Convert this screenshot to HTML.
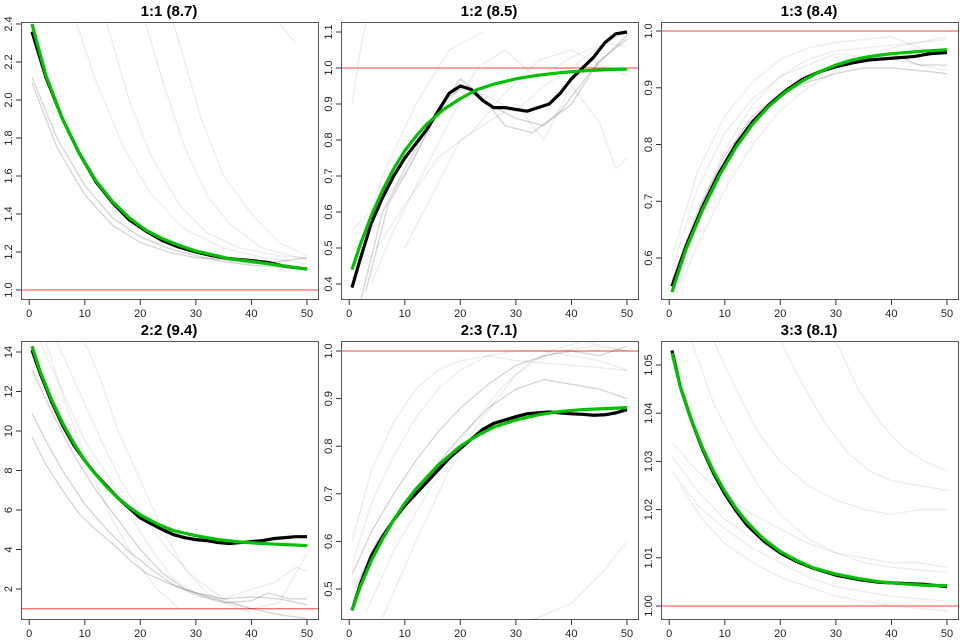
<!DOCTYPE html>
<html><head><meta charset="utf-8"><style>
body{margin:0;background:#fff}
svg{display:block;font-family:"Liberation Sans",sans-serif}
.t{font-weight:bold;font-size:15px;text-anchor:middle}
.tk{font-size:11px;fill:#222}
.g{fill:none;stroke:#000;stroke-opacity:.07;stroke-width:1.4;vector-effect:non-scaling-stroke}
.gd{fill:none;stroke:#000;stroke-opacity:.16;stroke-width:1.4;vector-effect:non-scaling-stroke}
.bk{fill:none;stroke:#000;stroke-width:3.2;vector-effect:non-scaling-stroke;stroke-linejoin:round}
.gr{fill:none;stroke:#00c000;stroke-width:3.2;vector-effect:non-scaling-stroke;stroke-linejoin:round}
.rd{stroke:#ff4040;stroke-width:1;vector-effect:non-scaling-stroke}
.bx{fill:none;stroke:#555;stroke-width:1}
.ax line{stroke:#333;stroke-width:1}
</style></head><body>
<svg width="960" height="640" viewBox="0 0 960 640">
<defs>
<clipPath id="c1"><rect x="21" y="22" width="297" height="277"/></clipPath>
<clipPath id="c2"><rect x="341" y="22" width="297" height="277"/></clipPath>
<clipPath id="c3"><rect x="661" y="22" width="297" height="277"/></clipPath>
<clipPath id="c4"><rect x="21" y="341" width="297" height="278"/></clipPath>
<clipPath id="c5"><rect x="341" y="341" width="297" height="278"/></clipPath>
<clipPath id="c6"><rect x="661" y="341" width="297" height="278"/></clipPath>
</defs>

<text class="t" x="169" y="16">1:1 (8.7)</text>
<text class="t" x="489" y="16">1:2 (8.5)</text>
<text class="t" x="809" y="16">1:3 (8.4)</text>
<text class="t" x="169" y="335">2:2 (9.4)</text>
<text class="t" x="489" y="335">2:3 (7.1)</text>
<text class="t" x="809" y="335">3:3 (8.1)</text>

<!-- Panel 1 -->
<g clip-path="url(#c1)">
<g transform="translate(29.2,480) scale(5.556,-190)">
<line class="rd" x1="-5" y1="1" x2="60" y2="1"/>
<polyline class="gd" points="0.5,2.12 5,1.8 10,1.55 15,1.38 20,1.28 25,1.22 30,1.18 35,1.15 40,1.13 45,1.12 50,1.11"/>
<polyline class="gd" points="0.5,2.09 5,1.75 10,1.5 15,1.34 20,1.25 25,1.2 30,1.17 35,1.16 40,1.14 45,1.15 50,1.17"/>
<polyline class="g" points="13,2.5 18,2.0 22,1.7 27,1.45 32,1.3 38,1.22 45,1.18 50,1.17"/>
<polyline class="g" points="20,2.5 24,2.1 28,1.75 32,1.5 36,1.35 42,1.22 50,1.16"/>
<polyline class="g" points="25,2.5 28,2.2 31,1.9 35,1.6 40,1.4 45,1.25 50,1.18"/>
<polyline class="g" points="8,2.45 12,2.1 17,1.75 22,1.5 28,1.32 35,1.22 42,1.17 50,1.14"/>
<polyline class="g" points="45,2.4 48,2.3"/>
<polyline class="bk" points="0.5,2.36 3,2.12 6,1.9 9,1.72 12,1.57 15,1.46 18,1.37 21,1.31 24,1.26 27,1.225 30,1.2 33,1.18 36,1.165 40,1.155 43,1.145 46,1.125 50,1.11"/>
<polyline class="gr" points="0.5,2.4 3,2.13 6,1.9 9,1.72 12,1.575 15,1.465 18,1.38 21,1.315 24,1.27 27,1.235 30,1.205 33,1.185 36,1.165 40,1.15 45,1.13 50,1.11"/>
</g></g>

<!-- Panel 2 -->
<g clip-path="url(#c2)">
<g transform="translate(349.2,428) scale(5.556,-360)">
<line class="rd" x1="-5" y1="1" x2="60" y2="1"/>
<polyline class="g" points="0.5,0.9 2,1.05 4,1.2"/>
<polyline class="g" points="0.5,0.55 5,0.62 10,0.7 15,0.85 20,0.95 25,0.92 30,0.88 35,0.95 40,1.0 45,1.06 50,1.1"/>
<polyline class="gd" points="2,0.35 6,0.6 10,0.72 14,0.83 18,0.92 21,0.95 25,0.9 30,0.86 35,0.84 40,0.9 45,1.02 50,1.08"/>
<polyline class="gd" points="3,0.38 7,0.62 12,0.76 16,0.88 20,0.97 24,0.92 28,0.84 33,0.82 38,0.88 44,1.0 50,1.09"/>
<polyline class="g" points="4,0.4 8,0.55 13,0.7 18,0.85 23,1.0 28,1.05 34,0.97 40,1.03 46,1.07 50,1.06"/>
<polyline class="g" points="1,0.45 6,0.7 12,0.9 18,1.05 24,1.1"/>
<polyline class="g" points="10,0.5 15,0.65 20,0.8 25,0.85 30,0.9 35,0.8 40,0.95 45,0.85 48,0.72 50,0.75"/>
<polyline class="g" points="5,0.5 10,0.62 16,0.75 22,0.82 28,0.93 34,1.02 40,1.05 46,1.0 50,0.98"/>
<polyline class="bk" points="0.5,0.39 2,0.47 4,0.57 6,0.64 8,0.7 10,0.75 12,0.79 14,0.83 16,0.88 18,0.93 20,0.95 22,0.94 24,0.91 26,0.89 28,0.89 30,0.885 32,0.88 34,0.89 36,0.9 38,0.93 40,0.97 42,1.0 44,1.03 46,1.07 48,1.095 50,1.1"/>
<polyline class="gr" points="0.5,0.44 2,0.51 4,0.59 6,0.66 8,0.72 10,0.77 12,0.81 14,0.845 17,0.885 20,0.915 23,0.94 26,0.955 30,0.97 34,0.98 38,0.987 42,0.992 46,0.995 50,0.997"/>
</g></g>

<!-- Panel 3 -->
<g clip-path="url(#c3)">
<g transform="translate(669.2,598.5) scale(5.556,-567.5)">
<line class="rd" x1="-5" y1="1" x2="60" y2="1"/>
<polyline class="gd" points="0.5,0.56 5,0.68 10,0.78 15,0.85 20,0.89 25,0.91 30,0.925 35,0.935 40,0.935 45,0.93 50,0.925"/>
<polyline class="gd" points="0.5,0.55 5,0.66 10,0.76 15,0.84 20,0.89 25,0.92 30,0.94 35,0.955 40,0.96 45,0.94 50,0.94"/>
<polyline class="g" points="0.5,0.58 5,0.72 10,0.82 15,0.88 20,0.92 25,0.95 30,0.965 35,0.97 40,0.975 45,0.98 50,0.985"/>
<polyline class="g" points="1,0.53 5,0.62 10,0.72 15,0.8 20,0.86 25,0.9 30,0.93 35,0.95 40,0.97 45,0.98 50,0.99"/>
<polyline class="g" points="0.5,0.6 5,0.75 10,0.85 15,0.91 20,0.95 25,0.97 30,0.98 35,0.985 40,0.99 45,0.97 50,0.96"/>
<polyline class="g" points="2,0.56 6,0.7 10,0.79 15,0.87 20,0.92 25,0.94 30,0.96 40,0.95 50,0.93"/>
<polyline class="bk" points="0.5,0.55 3,0.62 6,0.69 9,0.75 12,0.8 15,0.84 18,0.87 21,0.895 24,0.915 27,0.928 30,0.937 33,0.944 36,0.949 40,0.952 44,0.955 47,0.96 50,0.962"/>
<polyline class="gr" points="0.5,0.54 3,0.615 6,0.685 9,0.745 12,0.795 15,0.836 18,0.868 21,0.893 24,0.912 27,0.928 30,0.94 33,0.949 36,0.955 40,0.96 45,0.964 50,0.967"/>
</g></g>

<!-- Panel 4 -->
<g clip-path="url(#c4)">
<g transform="translate(29.2,628.5) scale(5.556,-19.75)">
<line class="rd" x1="-5" y1="1" x2="60" y2="1"/>
<polyline class="gd" points="0.5,9.7 3,8.3 6,7.0 9,5.8 12,5.0 15,4.3 18,3.5 21,2.8 25,2.3 30,1.8 35,1.5 40,1.6 45,1.5 50,1.2"/>
<polyline class="gd" points="0.5,10.9 3,9.5 6,8.0 10,6.3 14,5.0 18,3.9 22,3.0 26,2.2 30,1.7 35,1.3 40,1.4 43,1.8 47,1.5 50,1.5"/>
<polyline class="gd" points="0.5,13.1 4,11.0 8,8.8 12,7.0 16,5.5 20,4.0 24,2.8 28,2.0 32,1.6 36,1.3 40,1.0 45,0.7 50,0.5"/>
<polyline class="g" points="2,14.5 6,12 10,9.5 14,7.8 18,5.8 22,4.0 26,2.5 30,1.8 35,1.5 40,2.0 44,2.3 48,3.1 50,2.9"/>
<polyline class="g" points="5,14.5 9,12 13,9.5 17,7.2 21,5.5 25,4.0 30,2.5 35,1.5 40,1.0 45,1.3 50,3.8"/>
<polyline class="g" points="10,14.5 13,12.5 16,10 20,7.5 24,5.0 28,3.0 32,1.8 36,1.2 40,0.8"/>
<polyline class="g" points="3,14.5 7,11 11,8 15,5.5 19,3.5 23,2 27,1.0"/>
<polyline class="bk" points="0.5,14.1 2,12.9 4,11.5 6,10.3 8,9.3 10,8.5 12,7.8 14,7.2 16,6.6 18,6.1 20,5.6 22,5.3 24,5.0 26,4.75 28,4.6 30,4.5 32,4.45 34,4.35 36,4.3 38,4.35 40,4.4 42,4.45 44,4.55 46,4.6 48,4.65 50,4.65"/>
<polyline class="gr" points="0.5,14.3 2,13.0 4,11.6 6,10.4 8,9.4 10,8.5 12,7.8 14,7.15 16,6.6 18,6.15 20,5.75 23,5.3 26,4.95 30,4.7 34,4.5 38,4.38 42,4.3 46,4.25 50,4.2"/>
</g></g>

<!-- Panel 5 -->
<g clip-path="url(#c5)">
<g transform="translate(349.2,827) scale(5.556,-476)">
<line class="rd" x1="-5" y1="1" x2="60" y2="1"/>
<polyline class="gd" points="0.5,0.53 4,0.62 8,0.7 12,0.77 16,0.83 20,0.88 25,0.93 30,0.97 35,0.99 40,1.0 45,0.99 50,1.01"/>
<polyline class="g" points="0.5,0.55 4,0.68 8,0.78 12,0.86 16,0.92 20,0.96 25,0.99 30,1.0 35,1.0 40,0.99 45,0.98 50,0.96"/>
<polyline class="g" points="0.5,0.6 4,0.75 8,0.85 12,0.92 16,0.96 20,0.98 25,0.99 30,0.98 40,0.97 50,0.96"/>
<polyline class="g" points="3,0.45 8,0.58 13,0.68 18,0.78 23,0.86 28,0.93 33,0.98 38,1.0 44,1.01 50,1.0"/>
<polyline class="gd" points="1,0.5 5,0.6 10,0.68 15,0.75 20,0.82 25,0.88 30,0.92 35,0.94 40,0.93 45,0.92 50,0.9"/>
<polyline class="g" points="6,0.44 12,0.6 18,0.75 24,0.86 30,0.95 36,1.0 42,1.02 50,1.0"/>
<polyline class="g" points="28,0.42 34,0.44 40,0.47 46,0.54 50,0.6"/>
<polyline class="bk" points="0.5,0.455 2,0.51 4,0.57 6,0.61 8,0.645 10,0.675 12,0.7 14,0.725 16,0.75 18,0.775 20,0.795 22,0.815 24,0.835 26,0.848 28,0.855 30,0.862 32,0.868 34,0.87 36,0.872 38,0.87 40,0.868 42,0.867 44,0.865 46,0.866 48,0.87 50,0.877"/>
<polyline class="gr" points="0.5,0.455 2,0.505 4,0.56 6,0.605 8,0.645 10,0.68 12,0.71 14,0.735 16,0.76 18,0.78 20,0.8 23,0.822 26,0.84 30,0.855 34,0.866 38,0.873 42,0.877 46,0.879 50,0.881"/>
</g></g>

<!-- Panel 6 -->
<g clip-path="url(#c6)">
<g transform="translate(669.2,606) scale(5.556,-4820)">
<line class="rd" x1="-5" y1="0" x2="60" y2="0"/>
<polyline class="g" points="0.5,0.034 5,0.028 10,0.023 15,0.019 20,0.016 25,0.013 30,0.011 35,0.01 40,0.009 45,0.009 50,0.008"/>
<polyline class="g" points="0.5,0.031 5,0.024 10,0.018 15,0.014 20,0.011 25,0.009 30,0.007 35,0.006 40,0.005 50,0.004"/>
<polyline class="g" points="0.5,0.028 5,0.021 10,0.016 15,0.012 20,0.009 25,0.006 30,0.004 35,0.003 40,0.002 50,0.001"/>
<polyline class="g" points="8,0.055 12,0.045 16,0.036 20,0.03 25,0.025 30,0.022 35,0.02 40,0.019 45,0.02 50,0.02"/>
<polyline class="g" points="20,0.055 24,0.046 28,0.038 32,0.032 36,0.028 40,0.026 45,0.025 50,0.024"/>
<polyline class="g" points="2,0.025 6,0.018 10,0.013 15,0.009 20,0.006 25,0.004 30,0.002 40,0.0 50,-0.001"/>
<polyline class="g" points="4,0.055 8,0.042 12,0.033 16,0.025 20,0.019 25,0.014 30,0.011 35,0.009 40,0.008 50,0.007"/>
<polyline class="g" points="30,0.055 34,0.045 38,0.038 42,0.033 46,0.03 50,0.028"/>
<polyline class="bk" points="0.5,0.053 2,0.0455 4,0.0385 6,0.0325 8,0.0275 10,0.0233 12,0.0198 14,0.0168 17,0.0135 20,0.011 23,0.0092 26,0.0078 30,0.0064 34,0.0055 38,0.0049 42,0.0047 46,0.0045 50,0.004"/>
<polyline class="gr" points="0.5,0.0525 2,0.0455 4,0.0386 6,0.0328 8,0.0279 10,0.0238 12,0.0203 14,0.0174 17,0.0139 20,0.0113 23,0.0094 26,0.0079 30,0.0066 34,0.0057 38,0.005 42,0.0046 46,0.0043 50,0.0042"/>
</g></g>

<rect class="bx" x="21.5" y="22.5" width="297" height="277"/>
<rect class="bx" x="341.5" y="22.5" width="297" height="277"/>
<rect class="bx" x="661.5" y="22.5" width="297" height="277"/>
<rect class="bx" x="21.5" y="341.5" width="297" height="278"/>
<rect class="bx" x="341.5" y="341.5" width="297" height="278"/>
<rect class="bx" x="661.5" y="341.5" width="297" height="278"/>

<g class="ax">
<line x1="29.2" y1="300" x2="29.2" y2="305"/><line x1="84.8" y1="300" x2="84.8" y2="305"/><line x1="140.3" y1="300" x2="140.3" y2="305"/><line x1="195.9" y1="300" x2="195.9" y2="305"/><line x1="251.4" y1="300" x2="251.4" y2="305"/><line x1="307" y1="300" x2="307" y2="305"/>
<line x1="349.2" y1="300" x2="349.2" y2="305"/><line x1="404.8" y1="300" x2="404.8" y2="305"/><line x1="460.3" y1="300" x2="460.3" y2="305"/><line x1="515.9" y1="300" x2="515.9" y2="305"/><line x1="571.4" y1="300" x2="571.4" y2="305"/><line x1="627" y1="300" x2="627" y2="305"/>
<line x1="669.2" y1="300" x2="669.2" y2="305"/><line x1="724.8" y1="300" x2="724.8" y2="305"/><line x1="780.3" y1="300" x2="780.3" y2="305"/><line x1="835.9" y1="300" x2="835.9" y2="305"/><line x1="891.4" y1="300" x2="891.4" y2="305"/><line x1="947" y1="300" x2="947" y2="305"/>
<line x1="29.2" y1="620" x2="29.2" y2="625"/><line x1="84.8" y1="620" x2="84.8" y2="625"/><line x1="140.3" y1="620" x2="140.3" y2="625"/><line x1="195.9" y1="620" x2="195.9" y2="625"/><line x1="251.4" y1="620" x2="251.4" y2="625"/><line x1="307" y1="620" x2="307" y2="625"/>
<line x1="349.2" y1="620" x2="349.2" y2="625"/><line x1="404.8" y1="620" x2="404.8" y2="625"/><line x1="460.3" y1="620" x2="460.3" y2="625"/><line x1="515.9" y1="620" x2="515.9" y2="625"/><line x1="571.4" y1="620" x2="571.4" y2="625"/><line x1="627" y1="620" x2="627" y2="625"/>
<line x1="669.2" y1="620" x2="669.2" y2="625"/><line x1="724.8" y1="620" x2="724.8" y2="625"/><line x1="780.3" y1="620" x2="780.3" y2="625"/><line x1="835.9" y1="620" x2="835.9" y2="625"/><line x1="891.4" y1="620" x2="891.4" y2="625"/><line x1="947" y1="620" x2="947" y2="625"/>
</g>
<g class="tk" text-anchor="middle">
<text x="29.2" y="317">0</text><text x="84.8" y="317">10</text><text x="140.3" y="317">20</text><text x="195.9" y="317">30</text><text x="251.4" y="317">40</text><text x="307" y="317">50</text>
<text x="349.2" y="317">0</text><text x="404.8" y="317">10</text><text x="460.3" y="317">20</text><text x="515.9" y="317">30</text><text x="571.4" y="317">40</text><text x="627" y="317">50</text>
<text x="669.2" y="317">0</text><text x="724.8" y="317">10</text><text x="780.3" y="317">20</text><text x="835.9" y="317">30</text><text x="891.4" y="317">40</text><text x="947" y="317">50</text>
<text x="29.2" y="637">0</text><text x="84.8" y="637">10</text><text x="140.3" y="637">20</text><text x="195.9" y="637">30</text><text x="251.4" y="637">40</text><text x="307" y="637">50</text>
<text x="349.2" y="637">0</text><text x="404.8" y="637">10</text><text x="460.3" y="637">20</text><text x="515.9" y="637">30</text><text x="571.4" y="637">40</text><text x="627" y="637">50</text>
<text x="669.2" y="637">0</text><text x="724.8" y="637">10</text><text x="780.3" y="637">20</text><text x="835.9" y="637">30</text><text x="891.4" y="637">40</text><text x="947" y="637">50</text>
</g>

<g class="ax">
<line x1="16" x2="21" y1="290" y2="290"/><line x1="16" x2="21" y1="252" y2="252"/><line x1="16" x2="21" y1="214" y2="214"/><line x1="16" x2="21" y1="176" y2="176"/><line x1="16" x2="21" y1="138" y2="138"/><line x1="16" x2="21" y1="100" y2="100"/><line x1="16" x2="21" y1="62" y2="62"/><line x1="16" x2="21" y1="24" y2="24"/>
<line x1="336" x2="341" y1="284" y2="284"/><line x1="336" x2="341" y1="248" y2="248"/><line x1="336" x2="341" y1="212" y2="212"/><line x1="336" x2="341" y1="176" y2="176"/><line x1="336" x2="341" y1="140" y2="140"/><line x1="336" x2="341" y1="104" y2="104"/><line x1="336" x2="341" y1="68" y2="68"/><line x1="336" x2="341" y1="32" y2="32"/>
<line x1="656" x2="661" y1="258" y2="258"/><line x1="656" x2="661" y1="201.3" y2="201.3"/><line x1="656" x2="661" y1="144.5" y2="144.5"/><line x1="656" x2="661" y1="87.8" y2="87.8"/><line x1="656" x2="661" y1="31" y2="31"/>
<line x1="16" x2="21" y1="589" y2="589"/><line x1="16" x2="21" y1="549.5" y2="549.5"/><line x1="16" x2="21" y1="510" y2="510"/><line x1="16" x2="21" y1="470.5" y2="470.5"/><line x1="16" x2="21" y1="431" y2="431"/><line x1="16" x2="21" y1="391.5" y2="391.5"/><line x1="16" x2="21" y1="352" y2="352"/>
<line x1="336" x2="341" y1="589" y2="589"/><line x1="336" x2="341" y1="541.4" y2="541.4"/><line x1="336" x2="341" y1="493.8" y2="493.8"/><line x1="336" x2="341" y1="446.2" y2="446.2"/><line x1="336" x2="341" y1="398.6" y2="398.6"/><line x1="336" x2="341" y1="351" y2="351"/>
<line x1="656" x2="661" y1="606" y2="606"/><line x1="656" x2="661" y1="557.8" y2="557.8"/><line x1="656" x2="661" y1="509.6" y2="509.6"/><line x1="656" x2="661" y1="461.4" y2="461.4"/><line x1="656" x2="661" y1="413.2" y2="413.2"/><line x1="656" x2="661" y1="365" y2="365"/>
</g>
<g class="tk" text-anchor="middle">
<text transform="translate(12,290) rotate(-90)">1.0</text><text transform="translate(12,252) rotate(-90)">1.2</text><text transform="translate(12,214) rotate(-90)">1.4</text><text transform="translate(12,176) rotate(-90)">1.6</text><text transform="translate(12,138) rotate(-90)">1.8</text><text transform="translate(12,100) rotate(-90)">2.0</text><text transform="translate(12,62) rotate(-90)">2.2</text><text transform="translate(12,24) rotate(-90)">2.4</text>
<text transform="translate(332,284) rotate(-90)">0.4</text><text transform="translate(332,248) rotate(-90)">0.5</text><text transform="translate(332,212) rotate(-90)">0.6</text><text transform="translate(332,176) rotate(-90)">0.7</text><text transform="translate(332,140) rotate(-90)">0.8</text><text transform="translate(332,104) rotate(-90)">0.9</text><text transform="translate(332,68) rotate(-90)">1.0</text><text transform="translate(332,32) rotate(-90)">1.1</text>
<text transform="translate(652,258) rotate(-90)">0.6</text><text transform="translate(652,201.3) rotate(-90)">0.7</text><text transform="translate(652,144.5) rotate(-90)">0.8</text><text transform="translate(652,87.8) rotate(-90)">0.9</text><text transform="translate(652,31) rotate(-90)">1.0</text>
<text transform="translate(12,589) rotate(-90)">2</text><text transform="translate(12,549.5) rotate(-90)">4</text><text transform="translate(12,510) rotate(-90)">6</text><text transform="translate(12,470.5) rotate(-90)">8</text><text transform="translate(12,431) rotate(-90)">10</text><text transform="translate(12,391.5) rotate(-90)">12</text><text transform="translate(12,352) rotate(-90)">14</text>
<text transform="translate(332,589) rotate(-90)">0.5</text><text transform="translate(332,541.4) rotate(-90)">0.6</text><text transform="translate(332,493.8) rotate(-90)">0.7</text><text transform="translate(332,446.2) rotate(-90)">0.8</text><text transform="translate(332,398.6) rotate(-90)">0.9</text><text transform="translate(332,351) rotate(-90)">1.0</text>
<text transform="translate(652,606) rotate(-90)">1.00</text><text transform="translate(652,557.8) rotate(-90)">1.01</text><text transform="translate(652,509.6) rotate(-90)">1.02</text><text transform="translate(652,461.4) rotate(-90)">1.03</text><text transform="translate(652,413.2) rotate(-90)">1.04</text><text transform="translate(652,365) rotate(-90)">1.05</text>
</g>
</svg>
</body></html>
